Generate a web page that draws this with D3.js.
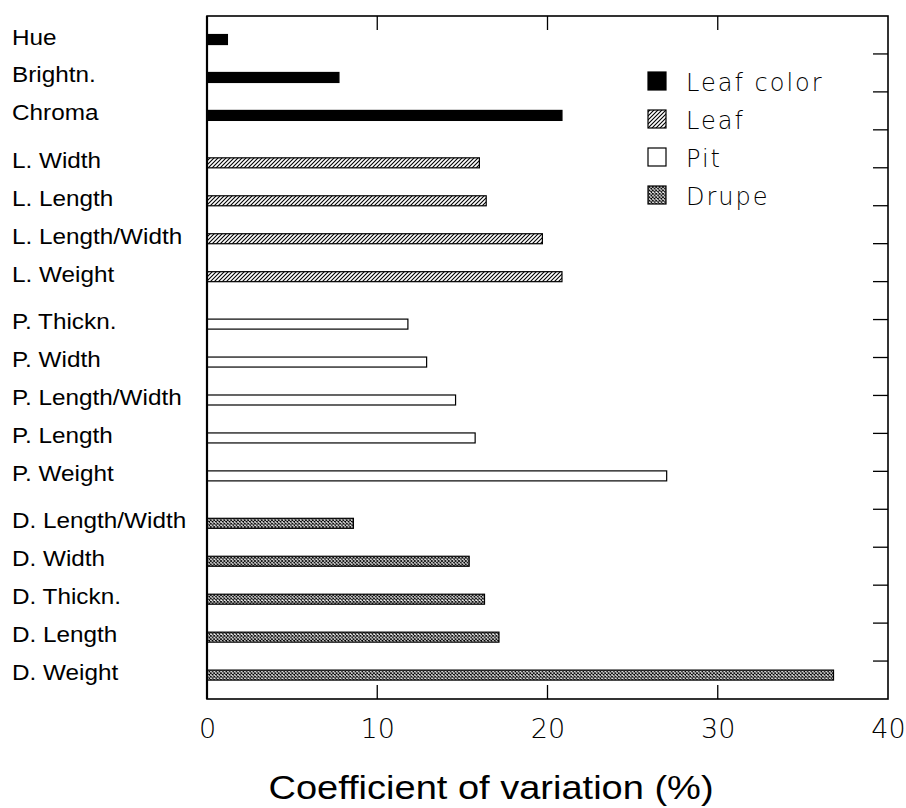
<!DOCTYPE html>
<html><head><meta charset="utf-8">
<script src="https://cdn.jsdelivr.net/npm/d3@7"></script>
<style>body{margin:0;background:#fff}svg{display:block}</style>
</head><body>
<svg id="chart" width="906" height="808"></svg>
<script>
const categories = ["Hue","Brightn.","Chroma","L. Width","L. Length","L. Length/Width","L. Weight",
  "P. Thickn.","P. Width","P. Length/Width","P. Length","P. Weight",
  "D. Length/Width","D. Width","D. Thickn.","D. Length","D. Weight"];
const groups = ["Leaf color","Leaf color","Leaf color","Leaf","Leaf","Leaf","Leaf",
  "Pit","Pit","Pit","Pit","Pit","Drupe","Drupe","Drupe","Drupe","Drupe"];
const values = [1.2, 7.75, 20.85, 16.0, 16.4, 19.7, 20.85,
  11.8, 12.9, 14.6, 15.75, 27.0, 8.6, 15.4, 16.3, 17.15, 36.8];
const legendNames = ["Leaf color","Leaf","Pit","Drupe"];
const xTicks = [0,10,20,30,40];

const svg = d3.select("#chart");
const L = 207, R = 888, T = 16, B = 699;
const x = d3.scaleLinear().domain([0,40]).range([L,R]);
const y = d3.scaleLinear().domain([0,18]).range([T,B]);
const groupIndex = g => legendNames.indexOf(g);
const pos = (i) => 0.62 + i + 0.25*groupIndex(groups[i]);

const defs = svg.append("defs");
const hatch = defs.append("pattern").attr("id","hatch").attr("patternUnits","userSpaceOnUse")
  .attr("width",4).attr("height",4);
hatch.append("rect").attr("width",4).attr("height",4).attr("fill","#fff");
hatch.append("path").attr("d","M-1,1 L1,-1 M0,4 L4,0 M3,5 L5,3").attr("stroke","#000").attr("stroke-width",1.1);
const cross = defs.append("pattern").attr("id","cross").attr("patternUnits","userSpaceOnUse")
  .attr("width",3.4).attr("height",3.4);
cross.append("rect").attr("width",3.4).attr("height",3.4).attr("fill","#fff");
cross.append("path").attr("d","M0,0 L3.4,3.4 M3.4,0 L0,3.4").attr("stroke","#000").attr("stroke-width",0.9);

const fillFor = {"Leaf color":"#000","Leaf":"url(#hatch)","Pit":"#fff","Drupe":"url(#cross)"};
const barH = 10;

// bars
svg.append("g").selectAll("rect").data(values).join("rect")
  .attr("x", x(0))
  .attr("y", (d,i) => y(pos(i)) - barH/2)
  .attr("width", d => x(d) - x(0))
  .attr("height", barH)
  .attr("fill", (d,i) => fillFor[groups[i]])
  .attr("stroke", "#000").attr("stroke-width", 1.2);

// labels
const sx = 1.13;
svg.append("g").attr("transform",`translate(${12 - 12*sx},0) scale(${sx},1)`)
  .selectAll("text").data(categories).join("text")
  .attr("x", 12).attr("y", (d,i) => y(pos(i)) + 5)
  .attr("font-family","Liberation Sans, Arial, sans-serif").attr("font-size", 21.5)
  .attr("fill","#000").text(d => d);

// frame
svg.append("rect").attr("x",L).attr("y",T).attr("width",R-L).attr("height",B-T)
  .attr("fill","none").attr("stroke","#000").attr("stroke-width",1.6);
svg.append("line").attr("x1",L).attr("x2",L).attr("y1",T).attr("y2",B).attr("stroke","#000").attr("stroke-width",2.2);

// bottom axis
const xAxis = d3.axisBottom(x).tickValues(xTicks).tickSize(0).tickPadding(0);
const gx = svg.append("g").attr("transform",`translate(0,${B})`).call(xAxis);
gx.select(".domain").remove();
gx.selectAll("text").attr("dy",null).attr("y",39)
  .attr("font-family","DejaVu Sans, sans-serif").attr("font-weight",200).attr("font-size",27).attr("fill","#000");

// inner ticks
const inner = xTicks.filter(t => t>0 && t<40);
svg.append("g").selectAll("line.bt").data(inner).join("line")
  .attr("x1",d=>x(d)).attr("x2",d=>x(d)).attr("y1",B).attr("y2",B-14).attr("stroke","#000").attr("stroke-width",1.3);
svg.append("g").selectAll("line.tt").data(inner).join("line")
  .attr("x1",d=>x(d)).attr("x2",d=>x(d)).attr("y1",T).attr("y2",T+14).attr("stroke","#000").attr("stroke-width",1.3);
svg.append("g").selectAll("line.rt").data(d3.range(1,18)).join("line")
  .attr("x1",R).attr("x2",R-15).attr("y1",d=>y(d)).attr("y2",d=>y(d)).attr("stroke","#000").attr("stroke-width",1.3);

// axis title
svg.append("g").attr("transform",`translate(491,799) scale(1.17,1)`)
  .append("text").attr("x",0).attr("y",0).attr("text-anchor","middle")
  .attr("font-family","Liberation Sans, Arial, sans-serif").attr("font-size",32.5).attr("fill","#000")
  .text("Coefficient of variation (%)");

// legend
const lg = svg.append("g");
legendNames.forEach((n,i) => {
  const top = 72 + 38*i;
  lg.append("rect").attr("x",648).attr("y",top).attr("width",18).attr("height",18)
    .attr("fill",fillFor[n]).attr("stroke","#000").attr("stroke-width",1.2);
  lg.append("text").attr("x",686).attr("y",top+19).attr("font-family","DejaVu Sans, sans-serif")
    .attr("font-weight",200).attr("font-size",24).attr("letter-spacing",2).attr("fill","#000").text(n);
});
</script>
</body></html>
